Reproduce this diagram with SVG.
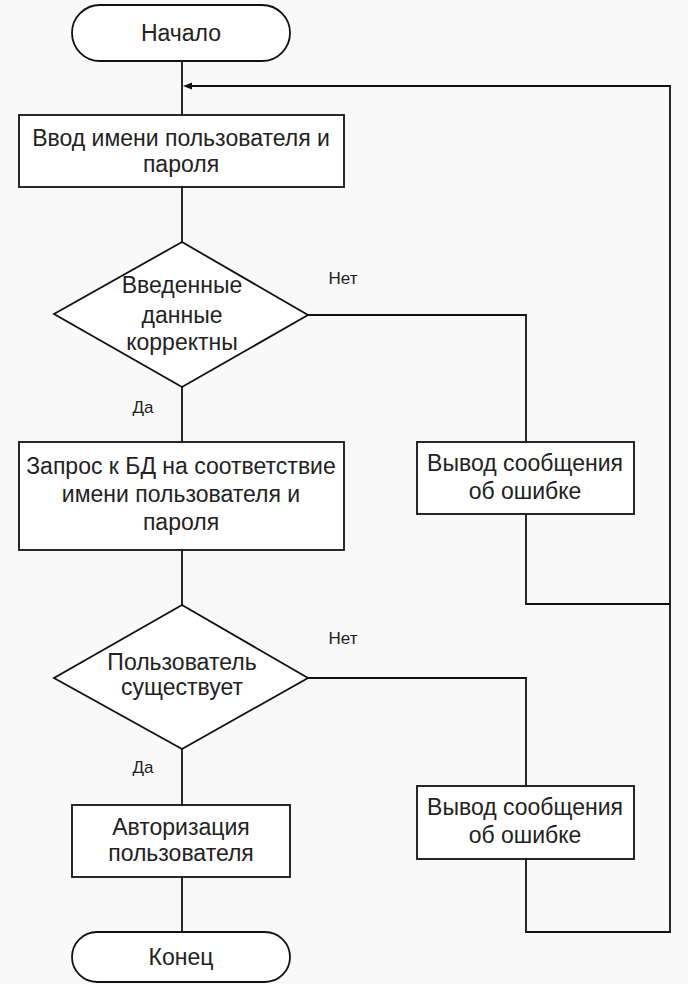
<svg xmlns="http://www.w3.org/2000/svg" width="688" height="984" viewBox="0 0 688 984">
<style>
.s{fill:#ffffff;stroke:#111;stroke-width:1.8}
.c{fill:none;stroke:#111;stroke-width:1.8}
.t{font-family:"Liberation Sans",Arial,sans-serif;font-size:23px;fill:#222;text-anchor:middle}
.l{font-family:"Liberation Sans",Arial,sans-serif;font-size:17px;fill:#222;text-anchor:middle}
</style>
<rect width="688" height="984" fill="#f9f9f9"/>
<g id="connectors">
<line class="c" x1="182" y1="61" x2="182" y2="115"/>
<line class="c" x1="182" y1="187" x2="182" y2="242"/>
<line class="c" x1="182" y1="387" x2="182" y2="442"/>
<line class="c" x1="182" y1="550" x2="182" y2="605"/>
<line class="c" x1="182" y1="749" x2="182" y2="805"/>
<line class="c" x1="182" y1="877" x2="182" y2="932"/>
<polyline class="c" points="308,315 526,315 526,442"/>
<polyline class="c" points="526,514 526,604 670,604"/>
<polyline class="c" points="308,678 526,678 526,786"/>
<polyline class="c" points="526,859 526,932 670,932 670,86 192,86"/>
<path d="M183,86 L192,82.5 L192,89.5 Z" fill="#111"/>
</g>
<g id="start">
<rect class="s" x="72" y="5" width="218" height="56" rx="28"/>
<text class="t" x="181" y="41">Начало</text>
</g>
<g id="input">
<rect class="s" x="19" y="115" width="325" height="72"/>
<text class="t" x="181" y="146">Ввод имени пользователя и</text>
<text class="t" x="181" y="172">пароля</text>
</g>
<g id="check1">
<polygon class="s" points="182,242 308,315 182,387 54,314"/>
<text class="t" x="182" y="293">Введенные</text>
<text class="t" x="182" y="323">данные</text>
<text class="t" x="182" y="350">корректны</text>
</g>
<text class="l" x="143" y="413">Да</text>
<text class="l" x="343" y="284">Нет</text>
<g id="error1">
<rect class="s" x="417" y="442" width="217" height="72"/>
<text class="t" x="525" y="471">Вывод сообщения</text>
<text class="t" x="525" y="499">об ошибке</text>
</g>
<g id="query">
<rect class="s" x="19" y="442" width="325" height="108"/>
<text class="t" x="181" y="474">Запрос к БД на соответствие</text>
<text class="t" x="181" y="502">имени пользователя и</text>
<text class="t" x="181" y="530">пароля</text>
</g>
<g id="check2">
<polygon class="s" points="182,605 308,678 182,749 54,678"/>
<text class="t" x="182" y="670">Пользователь</text>
<text class="t" x="182" y="695">существует</text>
</g>
<text class="l" x="143" y="773">Да</text>
<text class="l" x="343" y="644">Нет</text>
<g id="error2">
<rect class="s" x="417" y="786" width="217" height="73"/>
<text class="t" x="525" y="815">Вывод сообщения</text>
<text class="t" x="525" y="843">об ошибке</text>
</g>
<g id="auth">
<rect class="s" x="72" y="805" width="218" height="72"/>
<text class="t" x="181" y="835">Авторизация</text>
<text class="t" x="181" y="861">пользователя</text>
</g>
<g id="end">
<rect class="s" x="72" y="932" width="218" height="50" rx="25"/>
<text class="t" x="181" y="965">Конец</text>
</g>
</svg>
